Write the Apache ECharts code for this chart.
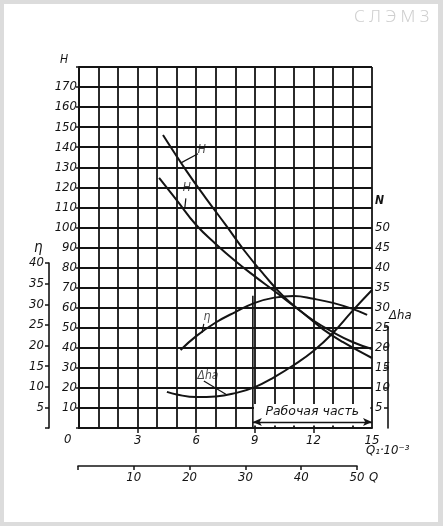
<!DOCTYPE html>
<html><head><meta charset="utf-8">
<script src="https://cdn.jsdelivr.net/npm/echarts@6/dist/echarts.min.js"></script>
<style>
html,body{margin:0;padding:0;background:#dcdcdc;width:443px;height:526px;overflow:hidden;}
#paper{position:absolute;left:4px;top:4px;width:434px;height:518px;background:#fff;}
#chart{position:absolute;left:0;top:0;width:443px;height:526px;}
</style></head><body>
<div id="paper"></div><div id="chart"></div>
<script>
// ---- data ----
const q1Labels = [3, 6, 9, 12, 15];
const q1TickMarks = [3, 6, 9, 12];
const qLabels = [10, 20, 30, 40, 50];
const qTickMarks = [0, 10, 20, 30, 40, 50];
const hLabels = [10, 20, 30, 40, 50, 60, 70, 80, 90, 100, 110, 120, 130, 140, 150, 160, 170];
const nLabels = [5, 10, 15, 20, 25, 30, 35, 40, 45, 50];
const etaLabels = [5, 10, 15, 20, 25, 30, 35, 40];
const dhTickMarks = [5, 10, 15, 20, 25];

// curves: [Q1·10^-3, value]
const hUpper = [[4.3,146.1],[5.5,128.2],[6.5,114.5],[7.5,101.4],[8.5,88.0],[9.5,76.1],[10.5,65.3],[11.5,57.1],[12.5,49.2],[13.5,42.9],[15.0,34.9]];
const hLower = [[4.1,124.7],[5.0,113.6],[6.0,101.2],[7.0,91.8],[8.0,83.3],[9.0,75.6],[10.0,68.3],[11.0,60.8],[12.0,53.6],[13.0,47.8],[14.0,42.9],[15.0,39.4]];
const eta    = [[5.2,19.45],[6.0,22.9],[7.0,26.3],[8.0,28.9],[9.0,31.2],[10.0,32.5],[11.0,32.9],[12.0,32.2],[13.0,31.2],[14.0,29.7],[14.75,28.2]];
const dha    = [[4.5,9.0],[5.0,8.35],[6.0,7.7],[7.0,7.85],[8.0,8.7],[9.0,10.2],[10.0,12.7],[11.0,15.7],[12.0,19.2],[13.0,23.7],[14.0,29.2],[15.0,34.4]];

// working range (Q1) and its boundary height (H)
const workRange = [8.9, 15];
const workBoundaryTop = 66;
const workText = 'Рабочая часть';

// curve labels (in H-axis units) and leaders
const curveLabels = [
  {text: 'H',   at: [6.29, 138.7], leader: [[6.09, 136.7], [5.22, 132.2]]},
  {text: 'H',   at: [5.52, 119.7], leader: [[5.47, 114.5], [5.42, 110.0]]},
  {text: 'η',   at: [6.55, 55.4],  leader: [[6.39, 51.9],  [6.29, 47.4]]},
  {text: 'Δha', at: [6.60, 25.9],  leader: [[6.39, 23.4],  [7.52, 16.8]]}
];

// ---- chart ----
const INK = '#141414';
const FONT = '"Liberation Sans Narrow","DejaVu Sans Condensed","Liberation Sans",sans-serif';
const lab = {color: INK, fontStyle: 'italic', fontSize: 13, fontFamily: FONT};

const chart = echarts.init(document.getElementById('chart'), null, {renderer: 'canvas'});

const curve = (name, data, yi) => ({
  name, type: 'line', data, xAxisIndex: 0, yAxisIndex: yi, smooth: 0.45,
  showSymbol: false, symbol: 'none', z: 4,
  lineStyle: {color: INK, width: 2}
});

const series = [
  curve('H', hUpper, 0),
  curve('H1', hLower, 0),
  curve('η', eta, 1),
  curve('Δha', dha, 1),
  {
    name: 'work', type: 'line', xAxisIndex: 0, yAxisIndex: 0, symbol: 'none', z: 5,
    data: [[workRange[0], 0], [workRange[0], workBoundaryTop]],
    lineStyle: {color: INK, width: 1.6},
    markArea: {
      silent: true,
      itemStyle: {color: '#ffffff'},
      label: {show: true, position: 'inside', offset: [0, -3], formatter: workText,
              color: INK, fontStyle: 'italic', fontSize: 12.5, fontFamily: '"DejaVu Sans",sans-serif'},
      data: [[{coord: [workRange[0] + 0.06, 1.2]}, {coord: [workRange[1] - 0.08, 12]}]]
    }
  },
  {
    name: 'arrow', type: 'line', xAxisIndex: 0, yAxisIndex: 0, symbol: 'none', z: 6,
    data: [],
    markLine: {
      silent: true, symbol: ['arrow', 'arrow'], symbolSize: [6, 9],
      label: {show: false},
      lineStyle: {color: INK, type: 'solid', width: 1.3},
      data: [[{coord: [workRange[0], 3]}, {coord: [workRange[1], 3]}]]
    }
  },
  {
    name: 'labels', type: 'scatter', xAxisIndex: 0, yAxisIndex: 0, symbolSize: 0, z: 6,
    data: curveLabels.map(c => ({value: c.at, name: c.text})),
    label: {show: true, position: 'inside', formatter: p => p.name, ...lab, fontSize: 12}
  }
];
curveLabels.forEach((c, i) => series.push({
  name: 'leader' + i, type: 'line', xAxisIndex: 0, yAxisIndex: 0, symbol: 'none', z: 6,
  data: c.leader, lineStyle: {color: INK, width: 1.2}
}));
// dummy series for auxiliary axes
series.push({type: 'line', xAxisIndex: 1, yAxisIndex: 2, data: [], symbol: 'none'});
series.push({type: 'line', xAxisIndex: 2, yAxisIndex: 3, data: [], symbol: 'none'});
series.push({type: 'line', xAxisIndex: 3, yAxisIndex: 4, data: [], symbol: 'none'});
series.push({type: 'line', xAxisIndex: 4, yAxisIndex: 0, data: [], symbol: 'none'});

const hiddenX = gi => ({type: 'value', gridIndex: gi, min: 0, max: 1, show: false});

const option = {
  animation: false,
  backgroundColor: 'transparent',
  grid: [
    {left: 79, top: 67, width: 293, height: 361},
    {left: 49, top: 263, width: 1, height: 165},
    {left: 388, top: 327, width: 1, height: 101},
    {left: 78, top: 465, width: 279, height: 1}
  ],
  xAxis: [
    {type: 'value', gridIndex: 0, min: 0, max: 15, interval: 1,
     axisLine: {show: true, onZero: false, lineStyle: {color: INK, width: 2}},
     axisTick: {show: false},
     axisLabel: {show: true, customValues: q1Labels, margin: 6, ...lab},
     splitLine: {show: true, lineStyle: {color: INK, width: 1.8}}},
    hiddenX(1), hiddenX(2),
    {type: 'value', gridIndex: 3, min: 0, max: 50, interval: 10,
     axisLine: {show: true, onZero: false, lineStyle: {color: INK, width: 1.6}},
     axisTick: {show: true, customValues: qTickMarks, length: 4, lineStyle: {color: INK, width: 1.5}},
     axisLabel: {show: true, customValues: qLabels, margin: 5, ...lab},
     splitLine: {show: false}},
    {type: 'value', gridIndex: 0, min: 0, max: 15, interval: 3, position: 'bottom',
     axisLine: {show: false},
     axisTick: {show: true, customValues: q1TickMarks, length: 5, lineStyle: {color: INK, width: 1.5}},
     axisLabel: {show: false},
     splitLine: {show: false}}
  ],
  yAxis: [
    {type: 'value', gridIndex: 0, min: 0, max: 180, interval: 10, position: 'left',
     axisLine: {show: true, onZero: false, lineStyle: {color: INK, width: 2}},
     axisTick: {show: true, length: 3, lineStyle: {color: INK, width: 1.5}},
     axisLabel: {show: true, customValues: hLabels, margin: 2, ...lab},
     splitLine: {show: true, lineStyle: {color: INK, width: 1.8}}},
    {type: 'value', gridIndex: 0, min: 0, max: 90, interval: 5, position: 'right',
     axisLine: {show: false},
     axisTick: {show: true, customValues: nLabels, length: 3, lineStyle: {color: INK, width: 1.5}},
     axisLabel: {show: true, customValues: nLabels, margin: 3, ...lab},
     splitLine: {show: false}},
    {type: 'value', gridIndex: 1, min: 0, max: 40, interval: 5, position: 'left',
     axisLine: {show: true, onZero: false, lineStyle: {color: INK, width: 1.6}},
     axisTick: {show: true, length: 4, lineStyle: {color: INK, width: 1.5}},
     axisLabel: {show: true, customValues: etaLabels, margin: 5, ...lab},
     splitLine: {show: false}},
    {type: 'value', gridIndex: 2, min: 0, max: 25, interval: 5, position: 'left',
     axisLine: {show: true, onZero: false, lineStyle: {color: INK, width: 1.6}},
     axisTick: {show: true, customValues: dhTickMarks, length: 4, lineStyle: {color: INK, width: 1.5}},
     axisLabel: {show: false},
     splitLine: {show: false}},
    {type: 'value', gridIndex: 3, min: 0, max: 1, show: false}
  ],
  graphic: [
    {type: 'text', left: 60, top: 54, style: {text: 'H', fill: INK, font: 'italic 12px ' + FONT}},
    {type: 'text', left: 375, top: 195, style: {text: 'N', fill: INK, font: 'italic bold 12px ' + FONT}},
    {type: 'text', left: 34, top: 241, style: {text: 'η', fill: INK, font: 'italic 15px ' + FONT}},
    {type: 'text', left: 389, top: 309, style: {text: 'Δha', fill: INK, font: 'italic 13px ' + FONT}},
    {type: 'text', left: 64, top: 433, style: {text: '0', fill: INK, font: 'italic 13px ' + FONT}},
    {type: 'text', left: 366, top: 444, style: {text: 'Q₁·10⁻³', fill: INK, font: 'italic 13px ' + FONT}},
    {type: 'text', left: 369, top: 471, style: {text: 'Q', fill: INK, font: 'italic 13px ' + FONT}},
    {type: 'text', left: 354, top: 9, style: {text: 'С Л Э М З', fill: '#cfcfcf', font: '300 17px "Noto Sans",sans-serif'}}
  ],
  series
};
chart.setOption(option);
</script>
</body></html>
